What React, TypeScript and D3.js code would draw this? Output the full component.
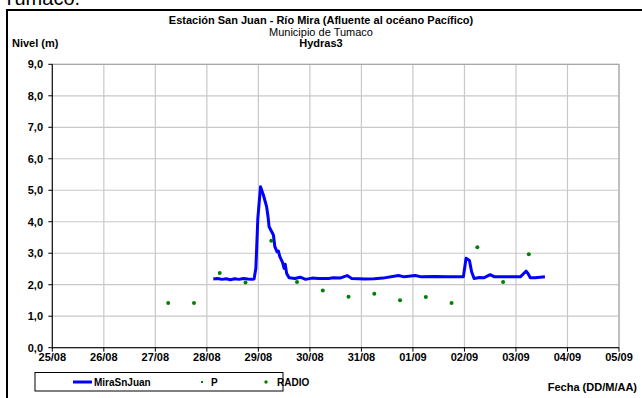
import React from "react";
import * as d3 from "d3";

const lineTimes = [
  "28/08 03:00","28/08 05:00","28/08 07:00","28/08 09:00","28/08 11:00","28/08 13:00","28/08 15:00","28/08 17:00","28/08 19:00","28/08 21:00","28/08 22:00","28/08 22:50","28/08 23:45",
  "29/08 01:00","29/08 02:20","29/08 03:50","29/08 04:30","29/08 05:00","29/08 07:00","29/08 07:40","29/08 08:40","29/08 09:20","29/08 10:00","29/08 11:15","29/08 12:00","29/08 12:30","29/08 13:10","29/08 14:20","29/08 17:00","29/08 19:30","29/08 22:00",
  "30/08 01:00","30/08 04:00","30/08 08:40","30/08 11:00","30/08 14:00","30/08 17:20","30/08 19:30",
  "31/08 01:40","31/08 06:00","31/08 10:00","31/08 17:15","31/08 20:00",
  "01/09 01:00","01/09 04:00","01/09 10:00","01/09 16:00","01/09 23:30",
  "02/09 00:45","02/09 02:20","02/09 03:20","02/09 04:30","02/09 07:00","02/09 09:00","02/09 12:00","02/09 14:00","02/09 20:00",
  "03/09 02:00","03/09 03:30","03/09 04:45","03/09 05:40","03/09 06:40","03/09 09:00","03/09 13:30",
];
const lineValues = [
  2.18,2.20,2.17,2.19,2.16,2.19,2.17,2.20,2.18,2.17,2.18,2.52,4.11,
  5.11,4.85,4.48,4.16,3.84,3.58,3.21,3.05,3.07,2.89,2.71,2.52,2.65,2.36,2.22,2.20,2.24,2.17,
  2.21,2.20,2.20,2.22,2.21,2.29,2.20,
  2.18,2.19,2.21,2.29,2.25,
  2.29,2.25,2.26,2.25,2.25,
  2.84,2.77,2.41,2.20,2.23,2.22,2.32,2.25,2.25,
  2.25,2.35,2.43,2.35,2.22,2.22,2.25,
];

const radioTimes = [
  "27/08 06:00","27/08 18:00","28/08 06:00","28/08 18:00","29/08 06:00","29/08 18:00",
  "30/08 06:00","30/08 18:00","31/08 06:00","31/08 18:00","01/09 06:00","01/09 18:00",
  "02/09 06:00","02/09 18:00","03/09 06:00",
];
const radioValues = [1.42,1.42,2.37,2.07,3.40,2.09,1.82,1.62,1.71,1.51,1.61,1.42,3.19,2.09,2.97];

const xTickLabels = ["25/08","26/08","27/08","28/08","29/08","30/08","31/08","01/09","02/09","03/09","04/09","05/09"];
const yTicks = [0,1,2,3,4,5,6,7,8,9];

const parse = (s: string) => {
  const [dm, hm] = s.split(" ");
  const [d, m] = dm.split("/").map(Number);
  const [h, mi] = (hm || "00:00").split(":").map(Number);
  return new Date(2013, m - 1, d, h, mi);
};

const FONT = "'Liberation Sans', Arial, sans-serif";

export default function App() {
  const W = 642, H = 398;
  const left = 52.3, right = 619, top = 64.3, bottom = 347.7;
  const x = d3.scaleTime()
    .domain([parse(xTickLabels[0]), parse(xTickLabels[xTickLabels.length - 1])])
    .range([left, right]);
  const y = d3.scaleLinear().domain([0, 9]).range([bottom, top]);
  const linePts = lineTimes.map((t, i) => [parse(t), lineValues[i]] as [Date, number]);
  const lineGen = d3.line<[Date, number]>().x(d => x(d[0])).y(d => y(d[1]));
  const fmt = d3.format(".1f");

  return (
    <svg width={W} height={H} style={{ position: "absolute", left: 0, top: 0, display: "block" }}
      fontFamily={FONT}>
      <rect x={0} y={0} width={W} height={H} fill="#fff" />
      <text x={3} y={5} fontSize={20} fill="#000">Tumaco.</text>
      <path d={`M7,${H} V10 H${W}`} fill="none" stroke="#000" strokeWidth={2} />
      {/* titles */}
      <text x={321} y={24} textAnchor="middle" fontSize={11} fontWeight="bold">Estación San Juan  - Río Mira (Afluente al océano Pacífico)</text>
      <text x={321} y={36} textAnchor="middle" fontSize={11}>Municipio de Tumaco</text>
      <text x={321} y={47} textAnchor="middle" fontSize={11} fontWeight="bold">Hydras3</text>
      <text x={12} y={47} fontSize={11} fontWeight="bold">Nivel (m)</text>
      {/* grid */}
      {yTicks.map(v => (
        <line key={"gy" + v} x1={left} x2={right} y1={y(v)} y2={y(v)} stroke="#c8c8c8" strokeWidth={1.2} />
      ))}
      {xTickLabels.map(t => (
        <line key={"gx" + t} x1={x(parse(t))} x2={x(parse(t))} y1={top} y2={bottom} stroke="#c8c8c8" strokeWidth={1.2} />
      ))}
      <rect x={left} y={top} width={right - left} height={bottom - top} fill="none" stroke="#a0a0a0" strokeWidth={1} />
      {/* axes */}
      <line x1={left} x2={left} y1={top} y2={bottom} stroke="#000" strokeWidth={1} />
      <line x1={left} x2={right} y1={bottom} y2={bottom} stroke="#000" strokeWidth={1} />
      {yTicks.map(v => (
        <g key={"ty" + v}>
          <line x1={left - 4} x2={left} y1={y(v)} y2={y(v)} stroke="#000" />
          <text x={43} y={y(v) + 4} textAnchor="end" fontSize={11} fontWeight="bold">{fmt(v).replace(".", ",")}</text>
        </g>
      ))}
      {xTickLabels.map(t => (
        <g key={"tx" + t}>
          <line x1={x(parse(t))} x2={x(parse(t))} y1={bottom} y2={bottom + 4} stroke="#000" />
          <text x={x(parse(t))} y={361} textAnchor="middle" fontSize={11} fontWeight="bold">{t}</text>
        </g>
      ))}
      {/* data */}
      <path d={lineGen(linePts) || ""} fill="none" stroke="#0000ff" strokeWidth={3} strokeLinejoin="round" />
      {radioTimes.map((t, i) => (
        <circle key={"r" + i} cx={x(parse(t))} cy={y(radioValues[i])} r={2} fill="#008000" />
      ))}
      {/* legend */}
      <rect x={35} y={372.5} width={248} height={18.5} fill="#fff" stroke="#000" strokeWidth={1} />
      <line x1={73} x2={92} y1={382} y2={382} stroke="#0000ff" strokeWidth={3} />
      <text x={94} y={385.5} fontSize={10} fontWeight="bold">MiraSnJuan</text>
      <rect x={201} y={381} width={2} height={2} fill="#008000" />
      <text x={211} y={385.5} fontSize={10} fontWeight="bold">P</text>
      <circle cx={266} cy={382} r={1.7} fill="#008000" />
      <text x={277} y={385.5} fontSize={10} fontWeight="bold" textLength={undefined}>RADIO</text>
      <text x={637} y={391} textAnchor="end" fontSize={11} fontWeight="bold">Fecha (DD/M/AA)</text>
    </svg>
  );
}
